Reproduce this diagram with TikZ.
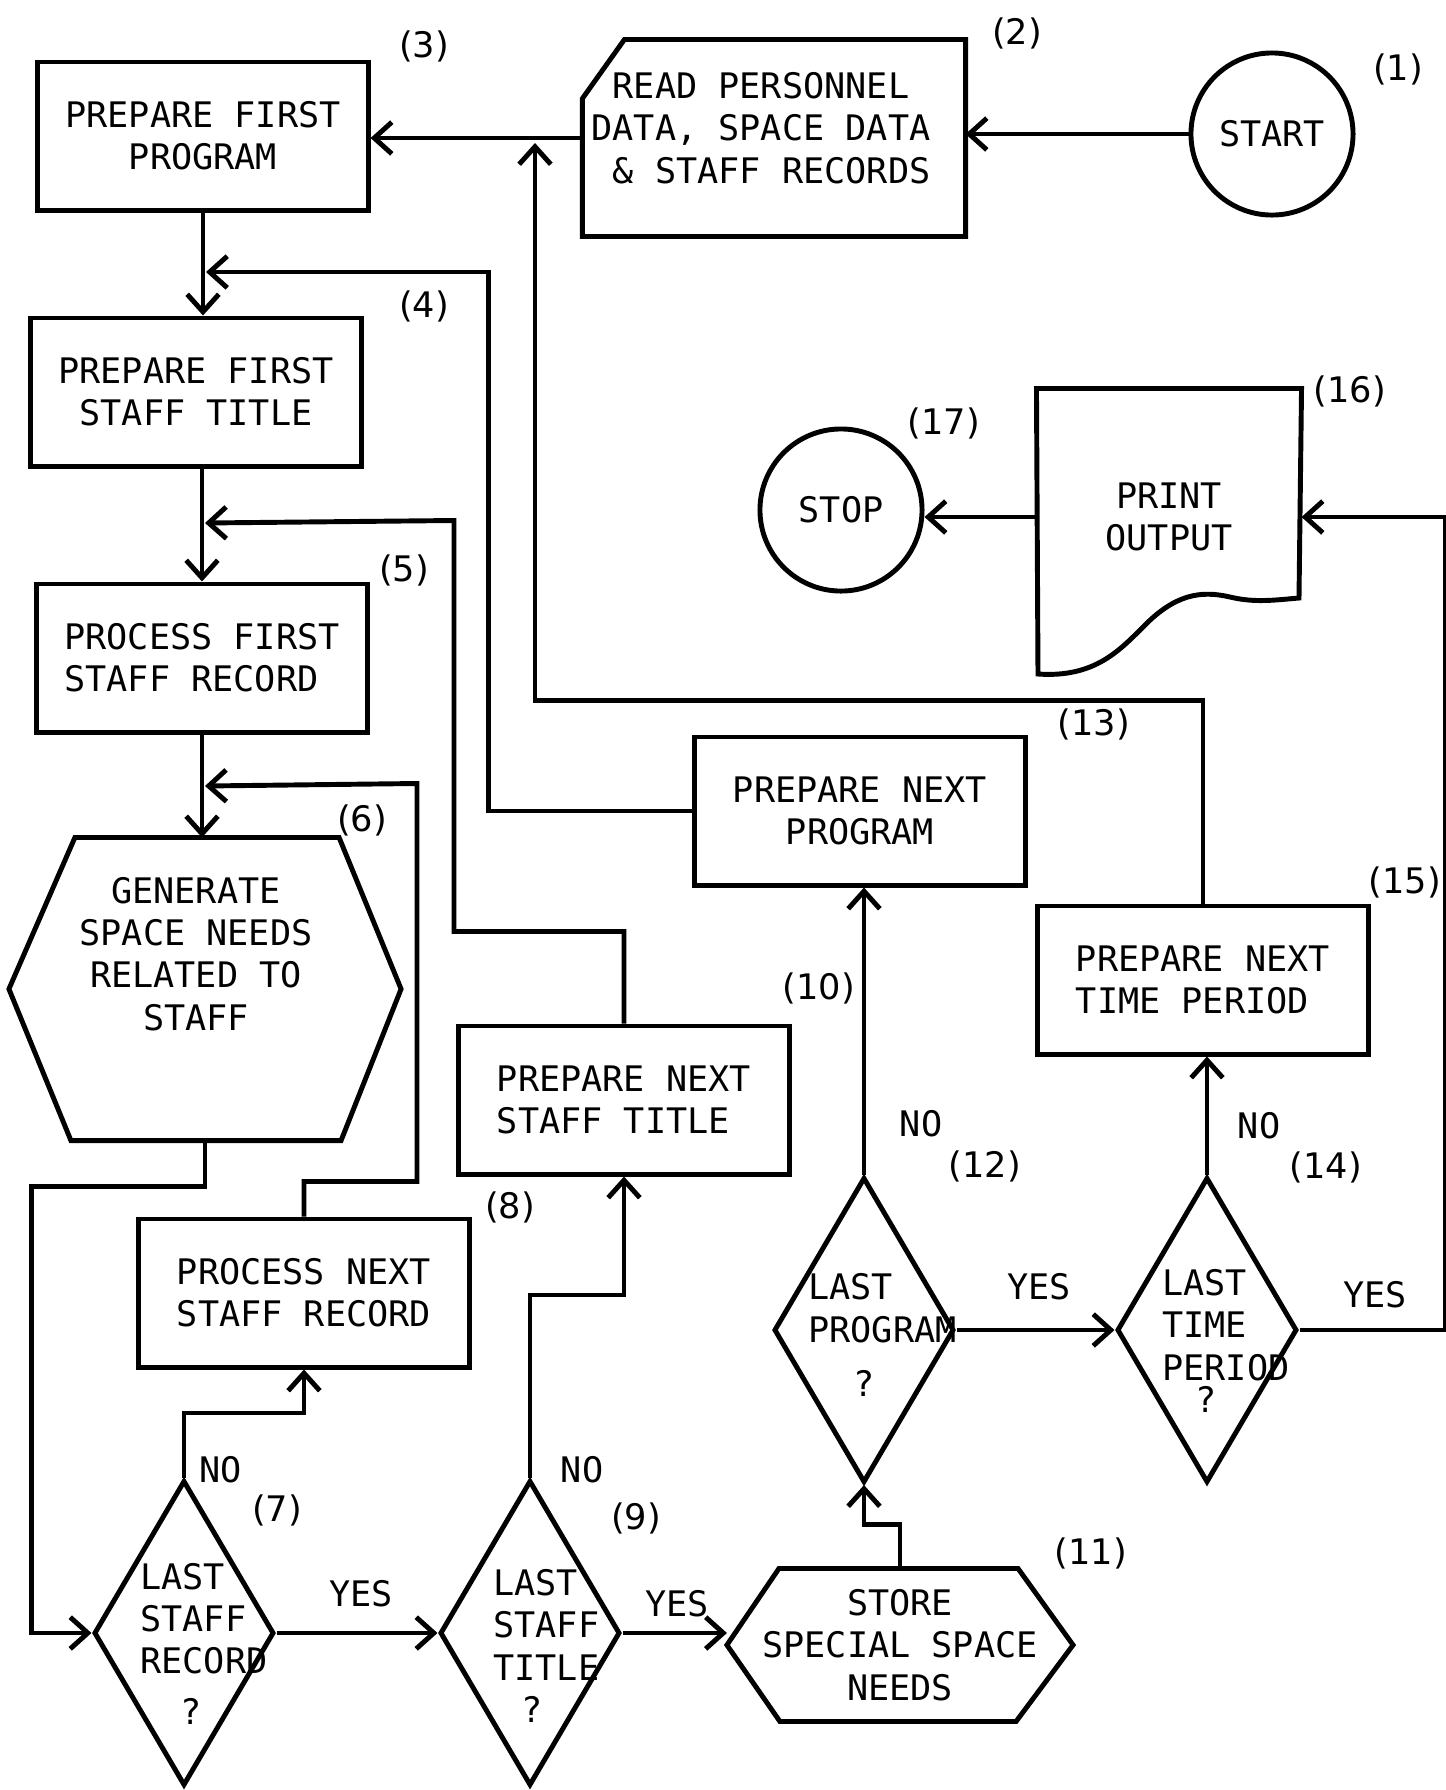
\documentclass[tikz,border=0pt]{standalone}
\usepackage{fontspec}
\setmainfont{DejaVu Sans Mono}
\newfontfamily\numfont{DejaVu Sans}
\usetikzlibrary{arrows.meta, shapes.geometric, calc}

\begin{document}
\begin{tikzpicture}[x=0.01cm, y=-0.01cm, line width=1.4pt,
    >={Straight Barb[length=5pt,width=9pt]},
    every node/.style={font=\fontsize{10}{12}\selectfont},
    box/.style={draw, rectangle, minimum width=3.3cm, minimum height=1.48cm, inner sep=0pt},
    term/.style={draw, circle, minimum size=1.62cm, inner sep=0pt},
    decide/.style={draw, diamond, minimum width=1.8cm, minimum height=3.05cm, inner sep=0pt},
    holder/.style={draw=none, rectangle, inner sep=0pt},
    txt/.style={inner sep=0pt},
    num/.style={inner sep=0pt, font=\numfont\fontsize{10}{12}\selectfont},
    ans/.style={inner sep=0pt}]
    \useasboundingbox (0,0) rectangle (1446,1790);

    % ==================== 1. steps ====================
    \node[term] (s1) at (1272,134) {START};
    \node[holder, minimum width=3.78cm, minimum height=1.92cm] (s2) at (774,138) {};
    \node[txt, align=left] (t2) at (761,128) {\phantom{D}READ PERSONNEL\\DATA, SPACE DATA\\\phantom{D}\& STAFF RECORDS};
    \node[box, align=center] (s3) at (203,136) {PREPARE FIRST\\PROGRAM};
    \node[box, align=center] (s4) at (196,392) {PREPARE FIRST\\STAFF TITLE};
    \node[box, align=left] (s5) at (202,658) {PROCESS FIRST\\STAFF RECORD};
    \node[holder, minimum width=3.87cm, minimum height=2.98cm] (s6) at (205,989) {};
    \node[txt, align=center] (t6) at (196,954) {GENERATE\\SPACE NEEDS\\RELATED TO\\STAFF};
    \node[decide] (s7) at (184,1633) {};
    \node[txt, align=left, anchor=west] (t7) at (138,1644) {LAST\\STAFF\\RECORD\\[2.5pt]\hspace*{11.5pt}?};
    \node[box, align=left] (s8) at (304,1293) {PROCESS NEXT\\STAFF RECORD};
    \node[decide] (s9) at (530,1633) {};
    \node[txt, align=left, anchor=west] (t9) at (491,1646) {LAST\\STAFF\\TITLE\\\hspace*{8pt}?};
    \node[box, align=left] (s10) at (624,1100) {PREPARE NEXT\\STAFF TITLE};
    \node[holder, align=center, minimum width=3.41cm, minimum height=1.48cm] (s11) at (900,1645) {STORE\\SPECIAL SPACE\\NEEDS};
    \node[decide] (s12) at (864,1330) {};
    \node[txt, align=left, anchor=west] (t12) at (806,1335) {LAST\\PROGRAM\\[3.4pt]\hspace*{12.7pt}?};
    \node[box, align=center] (s13) at (860,811) {PREPARE NEXT\\PROGRAM};
    \node[decide] (s14) at (1207,1330) {};
    \node[txt, align=left, anchor=west] (t14) at (1160,1341) {LAST\\TIME\\PERIOD\\[-2.8pt]\hspace*{9.5pt}?};
    \node[box, align=left] (s15) at (1203,980) {PREPARE NEXT\\TIME PERIOD};
    \node[holder, align=center, minimum width=2.6cm, minimum height=2.52cm] (s16) at (1169,517) {PRINT\\OUTPUT};
    \node[term] (s17) at (841,510) {STOP};

    % outlines drawn from the holders
    \draw ($(s2.north west)+(0,59)$) -- ($(s2.north west)+(42,0)$) -- (s2.north east) -- (s2.south east) -- (s2.south west) -- cycle;
    \draw ($(s6.north west)+(66,0)$) -- ($(s6.north east)+(-62,0)$) -- (s6.east) -- ($(s6.south east)+(-60,0)$) -- ($(s6.south west)+(62,0)$) -- (s6.west) -- cycle;
    \draw ($(s11.north west)+(52,0)$) -- ($(s11.north east)+(-55,0)$) -- (s11.east) -- ($(s11.south east)+(-57,0)$) -- ($(s11.south west)+(53,0)$) -- (s11.west) -- cycle;
    \draw (s16.north west) -- (s16.north east) -- (1299,598) .. controls (1275,600) and (1255,603) .. (1230,597)
        .. controls (1200,590) and (1175,595) .. (1145,625) .. controls (1120,650) and (1095,678) .. (1038,674) -- cycle;

    % ==================== 2. main flow ====================
    \draw[->] (s1.west) -- (s1.west -| s2.east);
    \draw[->] (s2.west) -- (s2.west -| s3.east);
    \draw[->] (s3.south) -- (s3.south |- s4.north);
    \draw[->] (s4.south -| s5.north) -- (s5.north);
    \draw[->] (s5.south) -- (s5.south |- s6.north);
    \draw[->] (s6.south) -- ++(0,46) -| ($(s7.west)+(-60,0)$) -- (s7.west);
    \draw[->] (s7.north) -- ++(0,-65) -| (s8.south);
    \draw[->] (s7.east) -- (s9.west);
    \draw[->] (s9.north) -- ++(0,-183) -| (s10.south);
    \draw[->] (s9.east) -- (s9.east -| s11.west);
    \draw[->] (s11.north) -- ++(0,-44) -| (s12.south);
    \draw[->] (s12.north) -- (s12.north |- s13.south);
    \draw[->] (s12.east) -- (s14.west);
    \draw[->] (s14.north) -- (s14.north |- s15.south);
    \draw[->] (s14.east) -- ++(146,0) |- (s16.east);
    \draw[->] (s16.west) -- (s16.west -| s17.east);

    % ==================== 3. loops back ====================
    \coordinate (j2) at (535,143);
    \coordinate (j4) at (206,272);
    \coordinate (j5) at (205,523);
    \coordinate (j6) at (205,786);
    \draw[->] (s13.west) -- ++(-204,0) |- (j4);
    \draw[->] (s10.north) -- ++(0,-92) -| ++(-170,-411) -- (j5);
    \draw[->] (s8.north) -- ++(0,-35) -| ++(113,-398) -- (j6);
    \draw[->] (s15.north) |- ++(-668,-203) -- (j2);

    % ==================== 4. numbers and answers ====================
    \node[num] (num1) at (1398,69) {(1)};
    \node[num] (num2) at (1017,33) {(2)};
    \node[num] (num3) at (424,46) {(3)};
    \node[num] (num4) at (424,306) {(4)};
    \node[num] (num5) at (404,570) {(5)};
    \node[num] (num6) at (362,820) {(6)};
    \node[num] (num7) at (277,1510) {(7)};
    \node[num] (num8) at (510,1207) {(8)};
    \node[num] (num9) at (636,1518) {(9)};
    \node[num] (num10) at (819,988) {(10)};
    \node[num] (num11) at (1091,1553) {(11)};
    \node[num] (num12) at (985,1166) {(12)};
    \node[num] (num13) at (1094,724) {(13)};
    \node[num] (num14) at (1326,1167) {(14)};
    \node[num] (num15) at (1405,882) {(15)};
    \node[num] (num16) at (1350,391) {(16)};
    \node[num] (num17) at (944,423) {(17)};

    \node[ans] (no7) at (221,1470) {NO};
    \node[ans] (no9) at (582,1470) {NO};
    \node[ans] (no12) at (921,1124) {NO};
    \node[ans] (no14) at (1259,1126) {NO};
    \node[ans] (yes7) at (361,1594) {YES};
    \node[ans] (yes9) at (677,1604) {YES};
    \node[ans] (yes12) at (1039,1287) {YES};
    \node[ans] (yes14) at (1375,1295) {YES};
\end{tikzpicture}
\end{document}
